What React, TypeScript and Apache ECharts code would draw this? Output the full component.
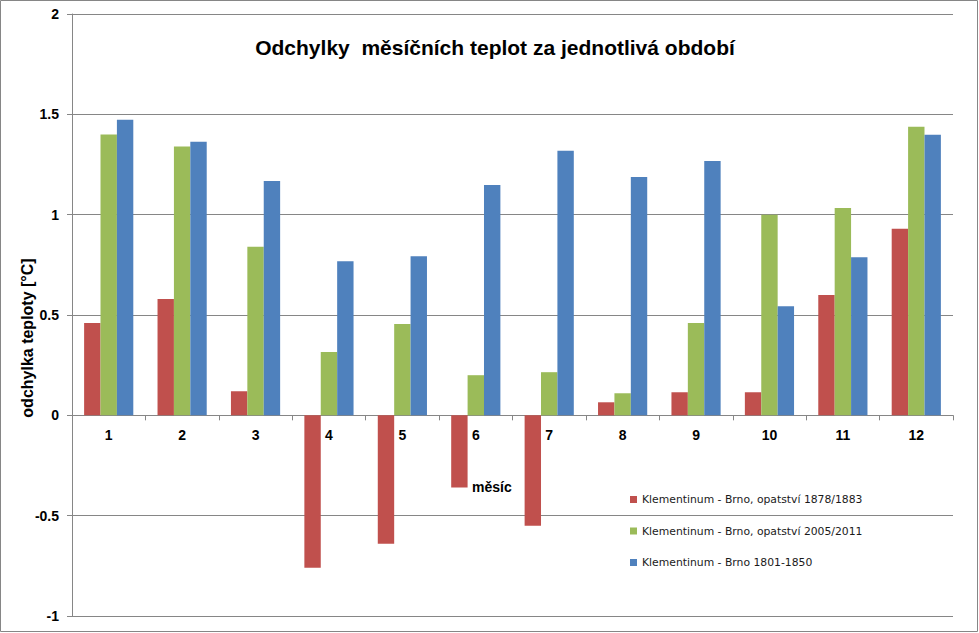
import React, { useEffect, useRef } from "react";
import * as echarts from "echarts";

const months = ["1", "2", "3", "4", "5", "6", "7", "8", "9", "10", "11", "12"];
const series1878 = [0.46, 0.58, 0.12, -0.76, -0.64, -0.36, -0.55, 0.065, 0.115, 0.115, 0.6, 0.93];
const series2005 = [1.40, 1.34, 0.84, 0.315, 0.455, 0.2, 0.215, 0.11, 0.46, 1.0, 1.033, 1.438];
const series1801 = [1.473, 1.363, 1.168, 0.768, 0.793, 1.148, 1.318, 1.188, 1.268, 0.543, 0.788, 1.398];
const seriesNames = [
  "Klementinum - Brno, opatství 1878/1883",
  "Klementinum - Brno, opatství 2005/2011",
  "Klementinum - Brno 1801-1850",
];
const titleText = "Odchylky  měsíčních teplot za jednotlivá období";
const yAxisTitle = "odchylka teploty [°C]";
const xAxisTitle = "měsíc";

const Y_MIN = -1;
const Y_MAX = 2;

export default function App() {
  const ref = useRef<HTMLDivElement>(null);
  useEffect(() => {
    document.body.style.margin = "0";
    const chart = echarts.init(ref.current!, null, { renderer: "svg" });
    const gray = "#868686";
    const font = "'Liberation Sans', Arial, sans-serif";
    const top = 14;
    const bottom = 17;
    const plotH = 633 - top - bottom;
    const zeroOffset = -(plotH * (0 - Y_MIN)) / (Y_MAX - Y_MIN);
    chart.setOption({
      animation: false,
      backgroundColor: "#ffffff",
      color: ["#C0504D", "#9BBB59", "#4F81BD"],
      grid: { left: 72, right: 26, top, bottom, containLabel: false, outerBoundsMode: "none" },
      legend: {
        orient: "vertical",
        left: 625,
        top: 489,
        itemWidth: 7,
        itemHeight: 7,
        itemGap: 20.5,
        itemTextGap: 6,
        icon: "rect",
        textStyle: { fontFamily: "'DejaVu Sans', sans-serif", fontSize: 10.8, color: "#1a1a1a" },
        data: seriesNames,
      },
      xAxis: {
        type: "category",
        data: months,
        position: "bottom",
        offset: zeroOffset,
        axisLine: { onZero: false, lineStyle: { color: gray, width: 1 } },
        axisTick: { show: true, length: 5, lineStyle: { color: gray } },
        axisLabel: { fontFamily: font, fontWeight: "bold", fontSize: 14, color: "#000", margin: 13 },
        splitLine: { show: false },
      },
      yAxis: {
        type: "value",
        min: Y_MIN,
        max: Y_MAX,
        interval: 0.5,
        axisLine: { show: true, lineStyle: { color: gray, width: 1 } },
        axisTick: { show: true, length: 5, lineStyle: { color: gray } },
        axisLabel: { fontFamily: font, fontWeight: "bold", fontSize: 14, color: "#000", margin: 13 },
        splitLine: { show: true, lineStyle: { color: gray, width: 1 } },
      },
      series: [
        { name: seriesNames[0], type: "bar", data: series1878, barGap: "0%", barCategoryGap: "33%" },
        { name: seriesNames[1], type: "bar", data: series2005, barGap: "0%", barCategoryGap: "33%" },
        { name: seriesNames[2], type: "bar", data: series1801, barGap: "0%", barCategoryGap: "33%" },
      ],
      graphic: [
        {
          type: "rect",
          shape: { x: 0.5, y: 0.5, width: 977, height: 631 },
          style: { fill: "none", stroke: gray, lineWidth: 1 },
          silent: true,
          z: 100,
        },
        {
          type: "text",
          x: 495,
          y: 47,
          style: {
            text: titleText,
            fontFamily: font,
            fontWeight: "bold",
            fontSize: 21,
            fill: "#000",
            textAlign: "center",
            textVerticalAlign: "middle",
          },
        },
        {
          type: "text",
          x: 27,
          y: 338,
          rotation: Math.PI / 2,
          style: {
            text: yAxisTitle,
            fontFamily: font,
            fontWeight: "bold",
            fontSize: 16,
            fill: "#000",
            textAlign: "center",
            textVerticalAlign: "middle",
          },
        },
        {
          type: "text",
          x: 472,
          y: 487,
          style: {
            text: xAxisTitle,
            fontFamily: font,
            fontWeight: "bold",
            fontSize: 14,
            fill: "#000",
            textAlign: "left",
            textVerticalAlign: "middle",
          },
        },
      ],
    });
    return () => chart.dispose();
  }, []);
  return <div ref={ref} style={{ width: 979, height: 633 }} />;
}
